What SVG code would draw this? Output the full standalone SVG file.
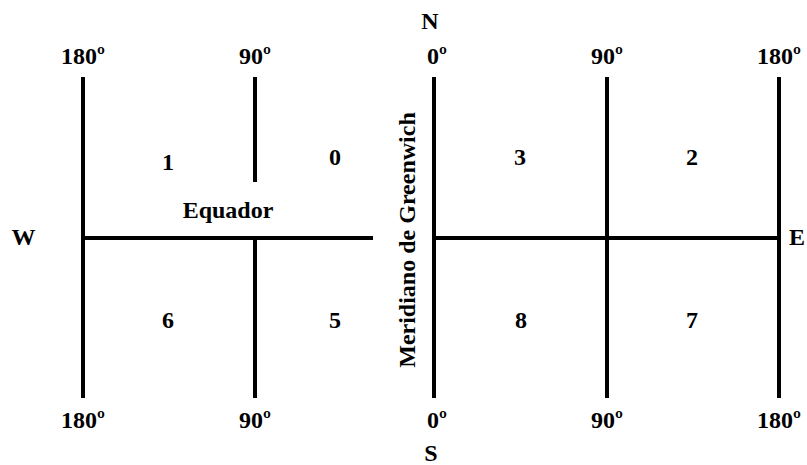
<svg xmlns="http://www.w3.org/2000/svg" width="807" height="465" viewBox="0 0 807 465">
<style>
text{font-family:"Liberation Serif","Times New Roman",serif;font-weight:bold;font-size:24px;fill:#000;text-anchor:middle}
.ln{stroke:#000;stroke-width:4;fill:none}
</style>
<rect width="807" height="465" fill="#fff"/>
<g id="connectors">
<line class="ln" x1="83" y1="77" x2="83" y2="398"/>
<line class="ln" x1="255" y1="77" x2="255" y2="182"/>
<line class="ln" x1="255" y1="238" x2="255" y2="398"/>
<line class="ln" x1="83" y1="238" x2="373" y2="238"/>
<line class="ln" x1="434" y1="77" x2="434" y2="398"/>
<line class="ln" x1="607" y1="77" x2="607" y2="398"/>
<line class="ln" x1="779" y1="77" x2="779" y2="398"/>
<line class="ln" x1="434" y1="238" x2="779" y2="238"/>
</g>
<g id="labels-top">
<text x="83" y="64">180º</text>
<text x="255" y="64">90º</text>
<text x="437" y="64">0º</text>
<text x="607" y="64">90º</text>
<text x="779" y="64">180º</text>
<text x="430" y="29">N</text>
</g>
<g id="labels-bottom">
<text x="83" y="428">180º</text>
<text x="255" y="428">90º</text>
<text x="437" y="428">0º</text>
<text x="607" y="428">90º</text>
<text x="779" y="428">180º</text>
<text x="431" y="461">S</text>
</g>
<g id="quadrants">
<text x="168" y="170">1</text>
<text x="335" y="165">0</text>
<text x="520" y="165">3</text>
<text x="692" y="165">2</text>
<text x="168" y="328">6</text>
<text x="335" y="328">5</text>
<text x="521" y="328">8</text>
<text x="692" y="328">7</text>
</g>
<g id="axes">
<text x="228" y="218">Equador</text>
<text x="23.5" y="245">W</text>
<text x="789" y="245" style="text-anchor:start">E</text>
<text transform="translate(415,240) rotate(-90)">Meridiano de Greenwich</text>
</g>
</svg>
